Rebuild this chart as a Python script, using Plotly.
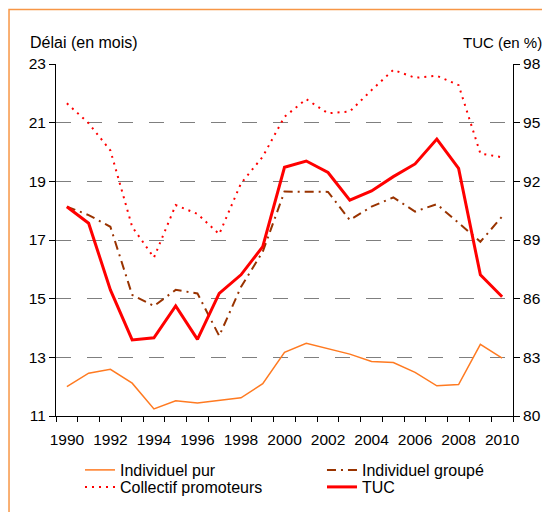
import plotly.graph_objects as go

years = list(range(1990, 2011))
indiv_pur = [12.0, 12.46, 12.59, 12.12, 11.24, 11.52, 11.44, 11.53, 11.62, 12.1, 13.17,
             13.48, 13.29, 13.11, 12.86, 12.82, 12.49, 12.03, 12.07, 13.44, 12.97]
indiv_groupe = [18.14, 17.85, 17.45, 15.13, 14.75, 15.3, 15.18, 13.73, 15.4, 16.6, 18.65,
                18.64, 18.64, 17.68, 18.14, 18.45, 17.97, 18.22, 17.57, 16.94, 17.8]
collectif = [21.66, 20.98, 20.05, 17.45, 16.4, 18.19, 17.89, 17.2, 18.93, 19.84, 21.2,
             21.8, 21.32, 21.38, 22.11, 22.8, 22.53, 22.6, 22.28, 19.95, 19.82]
tuc = [90.70, 89.86, 86.45, 83.89, 84.0, 85.63, 83.92, 86.27, 87.22, 88.66, 92.72,
       93.04, 92.45, 91.04, 91.51, 92.24, 92.89, 94.16, 92.66, 87.22, 86.1]
x_labels = list(range(1990, 2011, 2))
left_ticks = [11, 13, 15, 17, 19, 21, 23]
right_ticks = [80, 83, 86, 89, 92, 95, 98]

FONT = "Liberation Sans, Arial, sans-serif"

fig = go.Figure()
fig.add_trace(go.Scatter(x=years, y=indiv_pur, name="Individuel pur", mode="lines",
                         line=dict(color="#FF7A21", width=1.5), legend="legend"))
fig.add_trace(go.Scatter(x=years, y=indiv_groupe, name="Individuel groupé", mode="lines",
                         line=dict(color="#993300", width=2, dash="9px,5px,2px,5px"), legend="legend2"))
fig.add_trace(go.Scatter(x=years, y=collectif, name="Collectif promoteurs", mode="lines",
                         line=dict(color="#FF0000", width=2, dash="2px,5px"), legend="legend3"))
fig.add_trace(go.Scatter(x=years, y=tuc, name="TUC", mode="lines", yaxis="y2",
                         line=dict(color="#FF0000", width=3), legend="legend4"))

leg_common = dict(xanchor="left", yanchor="middle", orientation="v",
                  font=dict(size=16), bgcolor="rgba(0,0,0,0)")
LX1, LX2 = 0.0525, 0.582
LY1, LY2 = -0.1534, -0.2017

fig.update_layout(
    width=542, height=504,
    margin=dict(l=48, r=37, t=56, b=96, autoexpand=False),
    paper_bgcolor="white", plot_bgcolor="white",
    font=dict(family=FONT, size=15, color="black"),
    xaxis=dict(range=[1989.5, 2010.5], tickvals=x_labels, ticks="", showgrid=False,
               showline=True, linecolor="black", linewidth=1, zeroline=False,
               minor=dict(tick0=1989.5, dtick=1, ticks="outside", ticklen=5,
                          tickcolor="black", showgrid=False),
               tickfont=dict(size=15.5), ticklabelstandoff=9),
    yaxis=dict(range=[11, 23], tickvals=left_ticks, ticks="outside", ticklen=6,
               tickcolor="black", showline=True, linecolor="black", linewidth=1,
               showgrid=True, gridcolor="#7f7f7f", gridwidth=1, griddash="15px,16px",
               zeroline=False, tickfont=dict(size=15.5)),
    yaxis2=dict(range=[80, 98], tickvals=right_ticks, overlaying="y", side="right",
                ticks="outside", ticklen=6, tickcolor="black", showline=True,
                linecolor="black", linewidth=1, showgrid=False, zeroline=False,
                tickfont=dict(size=15.5)),
    showlegend=True,
    legend=dict(x=LX1, y=LY1, **leg_common),
    legend2=dict(x=LX2, y=LY1, **leg_common),
    legend3=dict(x=LX1, y=LY2, **leg_common),
    legend4=dict(x=LX2, y=LY2, **leg_common),
    annotations=[
        dict(text="Délai (en mois)", xref="paper", yref="paper", x=-0.0613, y=1.0605,
             xanchor="left", yanchor="middle", showarrow=False, font=dict(size=16)),
        dict(text="TUC (en %)", xref="paper", yref="paper", x=1.068, y=1.0605,
             xanchor="right", yanchor="middle", showarrow=False, font=dict(size=15)),
    ],
    shapes=[
        dict(type="rect", xref="paper", yref="paper", x0=-0.1028, x1=1.3, y0=-0.5, y1=1.1548,
             line=dict(color="#F79646", width=1.5), fillcolor="rgba(0,0,0,0)", layer="below"),
    ],
)

fig.write_html("out.html")
